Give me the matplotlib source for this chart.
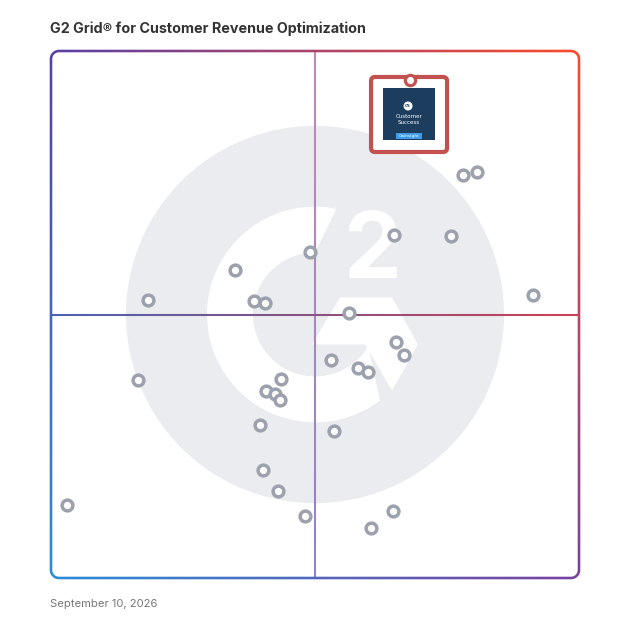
import numpy as np
import matplotlib.pyplot as plt
from matplotlib.collections import LineCollection
from matplotlib.patches import Circle, Polygon, FancyBboxPatch, Rectangle, PathPatch
from matplotlib.path import Path
from matplotlib.colors import to_rgb

# grid data (market presence on x, satisfaction on y, 0..100)
x_vals = [78.1, 80.6, 65.0, 75.8, 49.1, 34.8, 18.4, 38.4, 40.5, 56.5,
          65.3, 66.9, 53.0, 58.1, 60.0, 16.4, 43.6, 40.7, 42.4, 43.4,
          39.5, 53.6, 40.1, 42.9, 91.3, 3.0, 48.1, 60.6, 64.8]
y_vals = [76.5, 77.0, 65.0, 64.9, 61.8, 58.4, 52.7, 52.6, 52.2, 50.2,
          44.8, 42.4, 41.3, 39.9, 39.1, 37.5, 37.8, 35.5, 34.9, 33.7,
          29.1, 27.9, 20.4, 16.6, 53.7, 13.9, 11.8, 9.5, 12.7]
featured_x, featured_y = 68.0, 94.5
x_mid, y_mid = 50, 50

title = "G2 Grid® for Customer Revenue Optimization"
date_label = "September 10, 2026"

FONT = ["Inter", "DejaVu Sans"]

fig = plt.figure(figsize=(6.28, 6.28), dpi=100)
ax = fig.add_axes([51 / 628, 50 / 628, 528 / 628, 527 / 628])
ax.axis("off")

# pixel -> data scale
sx = 100 / 528
sy = 100 / 527

# --- G2 watermark ---
wm = "#eaecef"
ax.add_patch(Circle((x_mid, y_mid), 189 * sx, color=wm, zorder=0, lw=0))

r_o, r_i = 108 * sx, 62 * sx
t_out = np.radians(np.linspace(78.5, 307, 150))
t_in = np.radians(np.linspace(329, 90, 150))
ring = np.vstack([
    np.column_stack([x_mid + r_o * np.cos(t_out), y_mid + r_o * np.sin(t_out)]),
    np.column_stack([x_mid + r_i * np.cos(t_in), y_mid + r_i * np.sin(t_in)]),
])
ax.add_patch(Polygon(ring, closed=True, color="white", lw=0, zorder=0.5))

chev_px = [(-3, -30), (25, 17), (77, 17), (103, -30), (77, -76), (50, -30)]
chev = [(x_mid + dx * sx, y_mid + dy * sy) for dx, dy in chev_px]
ax.add_patch(Polygon(chev, closed=True, color="white", lw=0, zorder=0.5))

ax.text(x_mid + 57 * sx, y_mid + 60 * sy, "2", color="white", fontsize=66,
        fontweight="bold", family=FONT, ha="center", va="center", zorder=0.6)


# --- quadrant lines with gradient ---
def grad_line(x0, y0, x1, y1, c0, c1, lw):
    n = 200
    t = np.linspace(0, 1, n + 1)
    xs = x0 + (x1 - x0) * t
    ys = y0 + (y1 - y0) * t
    pts = np.column_stack([xs, ys])
    segs = np.stack([pts[:-1], pts[1:]], axis=1)
    a, b = np.array(to_rgb(c0)), np.array(to_rgb(c1))
    tm = (t[:-1] + t[1:]) / 2
    cols = a[None, :] * (1 - tm[:, None]) + b[None, :] * tm[:, None]
    ax.add_collection(LineCollection(segs, colors=cols, linewidths=lw, zorder=1))


grad_line(x_mid, 100, x_mid, 0, "#c588b4", "#8e82d0", 1.5)
grad_line(0, y_mid, 100, y_mid, "#4a62b2", "#cc4253", 1.5)

# --- products ---
ax.scatter(x_vals, y_vals, s=60, facecolor="white", edgecolor="#9ca1ad",
           linewidth=2.5, zorder=3)

# --- featured product badge ---
red = "#c2514f"
bx0 = featured_x - 39 * sx
ax.add_patch(FancyBboxPatch((bx0, featured_y - 72 * sy), 76 * sx, 75 * sy,
                            boxstyle="round,pad=0,rounding_size=%.3f" % (4 * sx),
                            facecolor="white", edgecolor=red, lw=3.0, zorder=5))
ax.add_patch(Rectangle((featured_x - 27 * sx, featured_y - 60 * sy), 52 * sx, 52 * sy,
                       facecolor="#1c3d5e", lw=0, zorder=5.1))
ax.add_patch(Circle((featured_x - 2 * sx, featured_y - 26 * sy), 4.5 * sx,
                    facecolor="white", lw=0, zorder=5.2))
ax.text(featured_x - 2 * sx, featured_y - 26 * sy, "CS", fontsize=2.8, color="#1c3d5e",
        ha="center", va="center", weight="bold", zorder=5.3)
ax.text(featured_x - 1 * sx, featured_y - 37 * sy, "Customer", fontsize=4.0, color="white",
        ha="center", va="center", zorder=5.3)
ax.text(featured_x - 1 * sx, featured_y - 43 * sy, "Success", fontsize=4.0, color="white",
        ha="center", va="center", zorder=5.3)
ax.add_patch(Rectangle((featured_x - 14 * sx, featured_y - 59 * sy), 26 * sx, 6 * sy,
                       facecolor="#3d9be9", lw=0, zorder=5.2))
ax.text(featured_x - 1 * sx, featured_y - 56 * sy, "Gainsight", fontsize=3.2, color="white",
        ha="center", va="center", zorder=5.3)
ax.scatter([featured_x], [featured_y], s=55, facecolor="white", edgecolor=red,
           linewidth=2.3, zorder=6)

# --- gradient frame with rounded corners (gradient image clipped to a ring) ---
w, h, r, half = 528.0, 527.0, 8.0, 1.3


def rounded_rect(x0, y0, x1, y1, rad):
    out = []
    for cx, cy, a0, a1 in [(x0 + rad, y0 + rad, 180, 270), (x1 - rad, y0 + rad, 270, 360),
                           (x1 - rad, y1 - rad, 0, 90), (x0 + rad, y1 - rad, 90, 180)]:
        a = np.radians(np.linspace(a0, a1, 16))
        out.append(np.column_stack([cx + rad * np.cos(a), cy + rad * np.sin(a)]))
    pts = np.vstack(out)
    return pts / np.array([w, h])


outer = rounded_rect(-half, -half, w + half, h + half, r + half)
inner = rounded_rect(half, half, w - half, h - half, r - half)[::-1]
verts = np.vstack([outer, outer[:1], inner, inner[:1]])
codes = ([Path.MOVETO] + [Path.LINETO] * (len(outer) - 1) + [Path.CLOSEPOLY]
         + [Path.MOVETO] + [Path.LINETO] * (len(inner) - 1) + [Path.CLOSEPOLY])
frame = PathPatch(Path(verts, codes), transform=ax.transAxes, facecolor="none",
                  edgecolor="none")
ax.add_patch(frame)

TL, TR = np.array(to_rgb("#5a3fa8")), np.array(to_rgb("#ff4a28"))
BL, BR = np.array(to_rgb("#2a8fd8")), np.array(to_rgb("#7a40a0"))
g = np.linspace(0, 1, 256)
U, V = np.meshgrid(g, g)
U, V = U[..., None], V[..., None]
grad = (1 - U) * (1 - V) * BL + U * (1 - V) * BR + (1 - U) * V * TL + U * V * TR
pad = 0.01
im = ax.imshow(grad, origin="lower", extent=[-pad, 1 + pad, -pad, 1 + pad],
               transform=ax.transAxes, aspect="auto", interpolation="bilinear", zorder=7)
im.set_clip_path(frame)
im.set_clip_box(fig.bbox)

ax.set_xlim(0, 100)
ax.set_ylim(0, 100)

# --- texts ---
fig.text(50 / 628, 1 - 29 / 628, title, fontsize=10.3, fontweight="bold",
         color="#333333", family=FONT, ha="left", va="center")
fig.text(50 / 628, 1 - 604 / 628, date_label, fontsize=8.1,
         color="#777777", family=FONT, ha="left", va="center")

fig.savefig("out.png", dpi=100, facecolor="white")
